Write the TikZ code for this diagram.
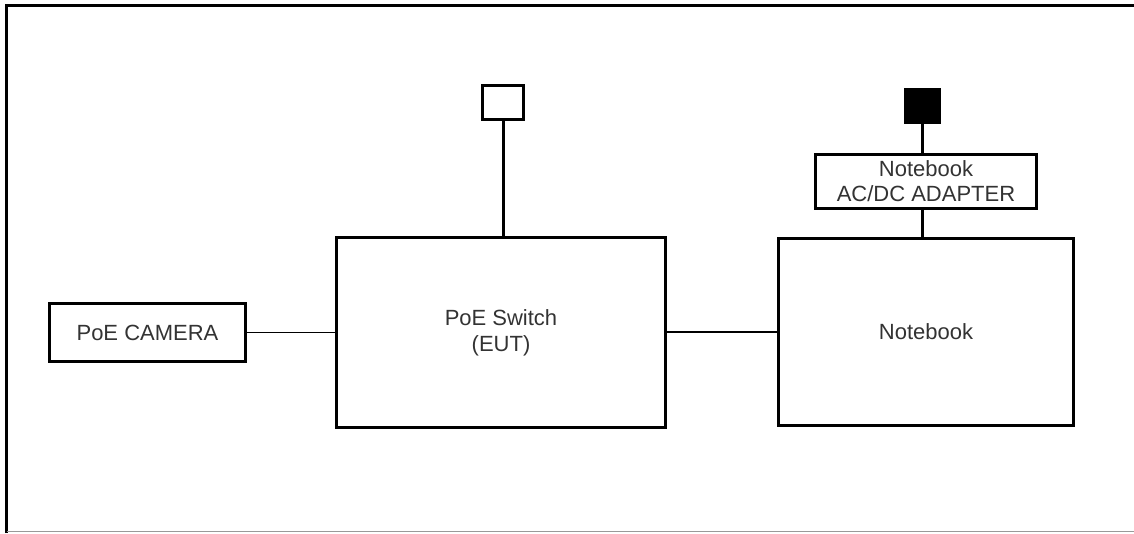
\documentclass[tikz,border=0pt]{standalone}
\usepackage{fontspec}
\setmainfont{Liberation Sans}
\begin{document}
\begin{tikzpicture}[x=1pt,y=-1pt,
  box/.style={draw=black,line width=3pt,rectangle,inner sep=0pt,fill=white,
    text=black!80,font=\fontsize{22}{26}\selectfont,align=center},
  thick conn/.style={line width=3pt},
  thin conn/.style={line width=1.5pt}]
\useasboundingbox (0,0) rectangle (1134,533);
% frame
\draw[line width=3pt] (6.5,533) -- (6.5,5.5) -- (1134,5.5);
\draw[line width=1pt,black!40] (6.5,531) -- (1134,531);
% nodes
\node[box,minimum width=196pt,minimum height=58pt] (cam) at (147.5,332.5) {PoE CAMERA};
\node[box,minimum width=329pt,minimum height=190pt] (sw) at (501,332.5) {PoE Switch\\(EUT)};
\node[box,minimum width=295pt,minimum height=187pt] (nb) at (926,332) {Notebook};
\node[box,minimum width=221pt,minimum height=54pt,font=\fontsize{22}{25}\selectfont] (ad) at (926,181.5) {Notebook\\AC/DC ADAPTER};
\node[box,minimum width=41pt,minimum height=34pt] (sock) at (503,102.5) {};
\node[box,fill=black,minimum width=34pt,minimum height=33pt] (plug) at (922,106) {};
% connectors
\draw[thin conn] (cam.east) -- (cam.east -| sw.west);
\draw[thin conn] (sw.east |- nb.west) -- (nb.west);
\draw[thick conn] (sock.south) -- (sock |- sw.north);
\draw[thick conn] (plug.south) -- (plug |- ad.north);
\draw[thick conn] (plug |- ad.south) -- (plug |- nb.north);
\end{tikzpicture}
\end{document}
